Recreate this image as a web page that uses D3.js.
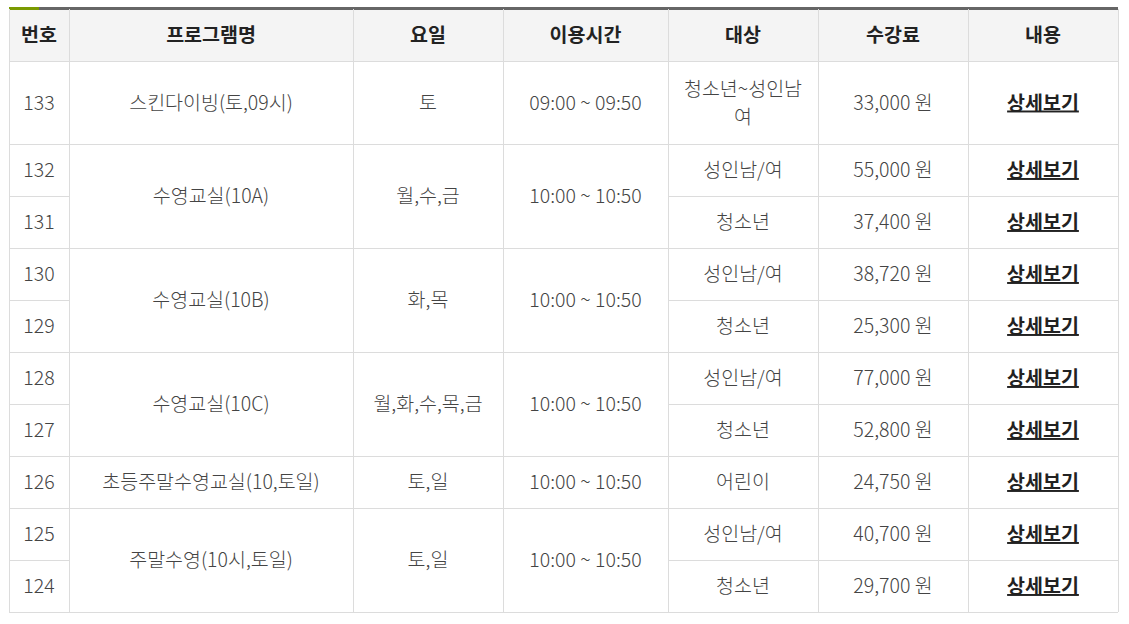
<!DOCTYPE html>
<html><head><meta charset="utf-8">
<script src="https://d3js.org/d3.v7.min.js"></script>
<style>body{margin:0;background:#fff}svg{display:block}text{font-family:"Noto Sans CJK KR","Noto Sans",sans-serif}</style>
</head><body><svg id="chart" width="1129" height="624"></svg>
<script>
const headers = ["번호","프로그램명","요일","이용시간","대상","수강료","내용"];
const ids = [133,132,131,130,129,128,127,126,125,124];
const groupSpans = [1,2,2,2,1,2];
const programs = ["스킨다이빙(토,09시)","수영교실(10A)","수영교실(10B)","수영교실(10C)","초등주말수영교실(10,토일)","주말수영(10시,토일)"];
const days = ["토","월,수,금","화,목","월,화,수,목,금","토,일","토,일"];
const times = ["09:00 ~ 09:50","10:00 ~ 10:50","10:00 ~ 10:50","10:00 ~ 10:50","10:00 ~ 10:50","10:00 ~ 10:50"];
const targets = [["청소년~성인남","여"],["성인남/여"],["청소년"],["성인남/여"],["청소년"],["성인남/여"],["청소년"],["어린이"],["성인남/여"],["청소년"]];
const fees = [33000,55000,37400,38720,25300,77000,52800,24750,40700,29700];

const svg = d3.select("#chart");
const colEdges = [9,69,353,503,668,818,968,1118];
const rowHeights = ids.map((d,i)=> i===0 ? 83 : 52);
const top0 = 9, headH = 52;
const rowTop = [];
rowHeights.reduce((y,h,i)=>{rowTop[i]=y; return y+h;}, top0+headH);
const bottom = rowTop[rowTop.length-1] + rowHeights[rowHeights.length-1];
const cx = i => (colEdges[i]+colEdges[i+1])/2;
const line = "#dcdcdc";
const fs = 19.5;

// header
svg.append("rect").attr("x",9).attr("y",top0).attr("width",1109).attr("height",headH).attr("fill","#f4f4f4");
svg.append("rect").attr("x",9).attr("y",7).attr("width",1109).attr("height",3).attr("fill","#666");
svg.append("rect").attr("x",9).attr("y",7).attr("width",30).attr("height",3).attr("fill","#7a9a01");
svg.selectAll(".h").data(headers).join("text")
  .attr("x",(d,i)=>cx(i)).attr("y",top0+headH/2+7).attr("text-anchor","middle")
  .attr("font-size",fs).attr("font-weight","bold").attr("fill","#222").text(d=>d);

let gStart = 0;
const groups = groupSpans.map((s,g)=>{const r={start:gStart,span:s,g}; gStart+=s; return r;});
const gy = r => rowTop[r.start];
const gh = r => d3.sum(rowHeights.slice(r.start,r.start+r.span));

const hl = [];
hl.push({y:top0+headH,x1:9,x2:1118});
ids.forEach((d,i)=>{
  const y = rowTop[i]+rowHeights[i];
  const isGroupEnd = groups.some(r=>r.start+r.span-1===i);
  hl.push(isGroupEnd ? {y,x1:9,x2:1118} : {y,x1:9,x2:69},
          isGroupEnd ? null : {y,x1:668,x2:1118});
});
svg.selectAll(".hl").data(hl.filter(d=>d)).join("line")
  .attr("x1",d=>d.x1).attr("x2",d=>d.x2).attr("y1",d=>d.y+0.5).attr("y2",d=>d.y+0.5)
  .attr("stroke",line);
svg.selectAll(".vl").data(colEdges).join("line")
  .attr("x1",d=>d+0.5).attr("x2",d=>d+0.5).attr("y1",top0).attr("y2",bottom)
  .attr("stroke",line);

const txt = (x,y,s)=>svg.append("text").attr("x",x).attr("y",y).attr("text-anchor","middle")
  .attr("font-size",fs).attr("font-weight",300).attr("fill","#444").text(s);

groups.forEach(r=>{
  const y = gy(r)+gh(r)/2+7;
  txt(cx(1),y,programs[r.g]);
  txt(cx(2),y,days[r.g]);
  txt(cx(3),y,times[r.g]);
});
ids.forEach((d,i)=>{
  const y = rowTop[i]+rowHeights[i]/2+7;
  txt(cx(0),y,d);
  const t = targets[i];
  t.forEach((s,k)=>txt(cx(4),y+(k-(t.length-1)/2)*28,s));
  txt(cx(5),y,d3.format(",")(fees[i])+" 원");
  txt(cx(6),y,"상세보기").attr("font-weight","bold").attr("fill","#222").attr("text-decoration","underline");
});
</script></body></html>
